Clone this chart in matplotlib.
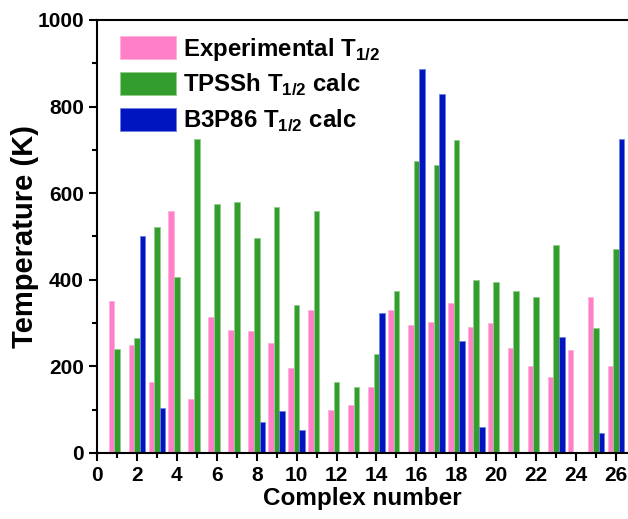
import matplotlib.pyplot as plt
import numpy as np

plt.rcParams['font.family'] = ['Liberation Sans', 'DejaVu Sans']
plt.rcParams['font.weight'] = 'bold'
plt.rcParams['mathtext.fontset'] = 'custom'
plt.rcParams['mathtext.rm'] = 'Liberation Sans:bold'
plt.rcParams['mathtext.bf'] = 'Liberation Sans:bold'

# data (nan = no bar)
complexes = np.arange(1, 27)
experimental = [350, 249, 163, 559, 125, 314, 284, 282, 255, 196, 330, 99, 110,
                153, 330, 296, 302, 347, 290, 300, 243, 200, 175, 238, 360, 200]
tpssh = [239, 265, 521, 406, 724, 574, 580, 497, 569, 341, 558, 163, 153,
         228, 375, 675, 665, 722, 399, 396, 373, 361, 480, np.nan, 289, 471]
b3p86 = [np.nan, 502, 103, np.nan, np.nan, np.nan, np.nan, 72, 96, 52, np.nan, np.nan, np.nan,
         324, np.nan, 887, 829, 259, 59, np.nan, np.nan, np.nan, 267, np.nan, 47, 726]

fig = plt.figure(figsize=(6.28, 5.19), dpi=100)
ax = fig.add_axes([0.1545, 0.1272, 0.8455, 0.8343])

w = 0.28
ax.bar(complexes - w, experimental, w, color='#FF80C8', edgecolor='#FFB0DA', linewidth=0.6,
       label=r'Experimental T$_{\mathbf{1/2}}$')
ax.bar(complexes, tpssh, w, color='#339E2E', edgecolor='#8FD08A', linewidth=0.6,
       label=r'TPSSh T$_{\mathbf{1/2}}$ calc')
ax.bar(complexes + w, b3p86, w, color='#0015C0', edgecolor='#7080E0', linewidth=0.6,
       label=r'B3P86 T$_{\mathbf{1/2}}$ calc')

ax.set_xlim(0, 26.6)
ax.set_ylim(0, 1000)
ax.set_xticks(np.arange(0, 27, 2))
ax.set_xticks(np.arange(1, 27, 2), minor=True)
ax.set_yticks(np.arange(0, 1001, 200))
ax.set_yticks(np.arange(100, 1000, 200), minor=True)
ax.tick_params(axis='both', which='major', direction='out', length=6, width=1.5, labelsize=15)
ax.tick_params(axis='both', which='minor', direction='out', length=3.5, width=1.5)
ax.spines['right'].set_visible(False)
for s in ['left', 'bottom', 'top']:
    ax.spines[s].set_linewidth(1.5)

ax.set_xlabel('Complex number', fontsize=17.5, fontweight='bold', labelpad=1)
ax.set_ylabel('Temperature (K)', fontsize=21, fontweight='bold')
ax.yaxis.set_label_coords(-0.11, 0.5)

ax.legend(loc='upper left', bbox_to_anchor=(0.003, 1.013), frameon=False, fontsize=17.3,
          handlelength=2.3, handleheight=1.1, labelspacing=0.38, handletextpad=0.3,
          borderaxespad=0.6, borderpad=0.3)

plt.savefig('out.png', dpi=100)
